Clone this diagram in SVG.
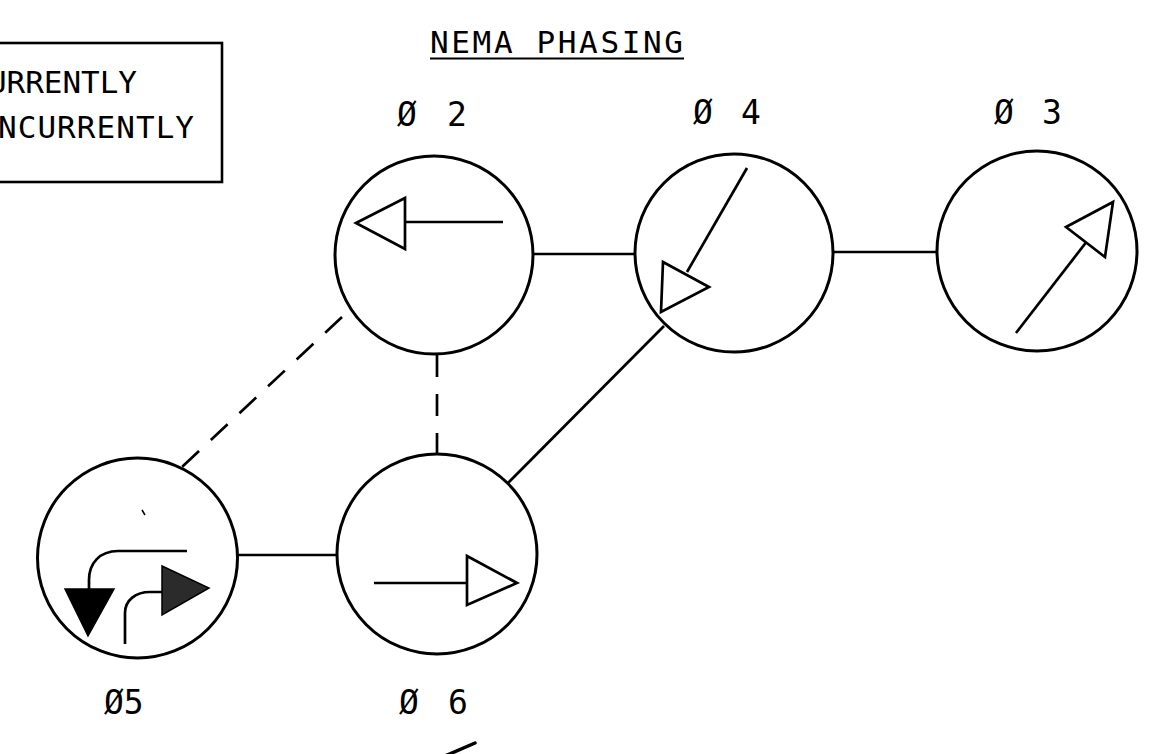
<svg xmlns="http://www.w3.org/2000/svg" width="1175" height="754" viewBox="0 0 1175 754">
<style>
.bg{fill:#ffffff}
.ring{fill:#ffffff;stroke:#000;stroke-width:3}
.sym{fill:none;stroke:#000;stroke-width:2.7;stroke-linejoin:miter}
.tri{fill:#ffffff;stroke:#000;stroke-width:2.7;stroke-linejoin:miter}
.con{stroke:#000;stroke-width:2.7;fill:none}
.dash1{stroke-dasharray:23 16.2}
.dash2{stroke-dasharray:22 17}
.lbl{font-family:"DejaVu Sans Mono","Liberation Mono",monospace;font-size:31px;fill:#000}
.ph{font-size:33px}
</style>
<rect class="bg" x="0" y="0" width="1175" height="754"/>

<g id="legend">
  <rect x="-10" y="43" width="232" height="139" fill="none" stroke="#000" stroke-width="2.6"/>
  <text class="lbl" x="-12" y="93" textLength="149" lengthAdjust="spacing">URRENTLY</text>
  <text class="lbl" x="-2" y="138" textLength="196" lengthAdjust="spacing">NCURRENTLY</text>
</g>

<g id="title">
  <text class="lbl" x="430" y="53" font-size="32" textLength="253" lengthAdjust="spacing">NEMA PHASING</text>
  <line x1="430" y1="58.5" x2="684" y2="58.5" stroke="#000" stroke-width="2.2"/>
</g>

<g id="connectors">
  <line class="con" x1="533" y1="254" x2="635" y2="254"/>
  <line class="con" x1="833" y1="252" x2="937" y2="252"/>
  <line class="con" x1="237" y1="555" x2="337" y2="555"/>
  <line class="con" x1="508" y1="483" x2="664" y2="326"/>
  <line class="con dash1" x1="342" y1="317" x2="182" y2="467"/>
  <line class="con dash2" x1="437" y1="355" x2="437" y2="455"/>
</g>

<g id="phase2">
  <circle class="ring" cx="434" cy="255" r="99"/>
  <line class="sym" x1="405" y1="222" x2="503" y2="222"/>
  <polygon class="tri" points="356,223 405,198 405,249"/>
  <text class="lbl ph" y="126" x="397 421 447">Ø 2</text>
</g>

<g id="phase4">
  <circle class="ring" cx="734" cy="253" r="99"/>
  <line class="sym" x1="747" y1="168" x2="687" y2="272"/>
  <polygon class="tri" points="663,262 709,287 661,312"/>
  <text class="lbl ph" y="124" x="693 718 741">Ø 4</text>
</g>

<g id="phase3">
  <circle class="ring" cx="1037" cy="251" r="100"/>
  <line class="sym" x1="1016" y1="333" x2="1091" y2="236"/>
  <polygon class="tri" points="1066,227 1113,202 1105,257"/>
  <text class="lbl ph" y="124" x="994 1019 1042">Ø 3</text>
</g>

<g id="phase5">
  <circle class="ring" cx="137.5" cy="558" r="100"/>
  <path class="sym" d="M187,551 H118 C100,551 89,563 89,580 V590"/>
  <polygon points="65,589 114,589 88,636" fill="#000" stroke="#000" stroke-width="1.5"/>
  <path class="sym" d="M125,644 V613 C125,600 136,592 150,592 H163"/>
  <polygon points="162,566 209,588 162,615" fill="#2b2b2b" stroke="#000" stroke-width="1.5"/>
  <line x1="142" y1="510" x2="145" y2="515" stroke="#000" stroke-width="1.5"/>
  <text class="lbl ph" y="714" x="104">Ø5</text>
</g>

<g id="phase6">
  <circle class="ring" cx="437" cy="554" r="100"/>
  <line class="sym" x1="374" y1="583" x2="467" y2="583"/>
  <polygon class="tri" points="467,556 517,583 467,605"/>
  <text class="lbl ph" y="714" x="399 424 448">Ø 6</text>
</g>

<line x1="445" y1="756" x2="475" y2="743" stroke="#000" stroke-width="3.5" stroke-linecap="round"/>
</svg>
